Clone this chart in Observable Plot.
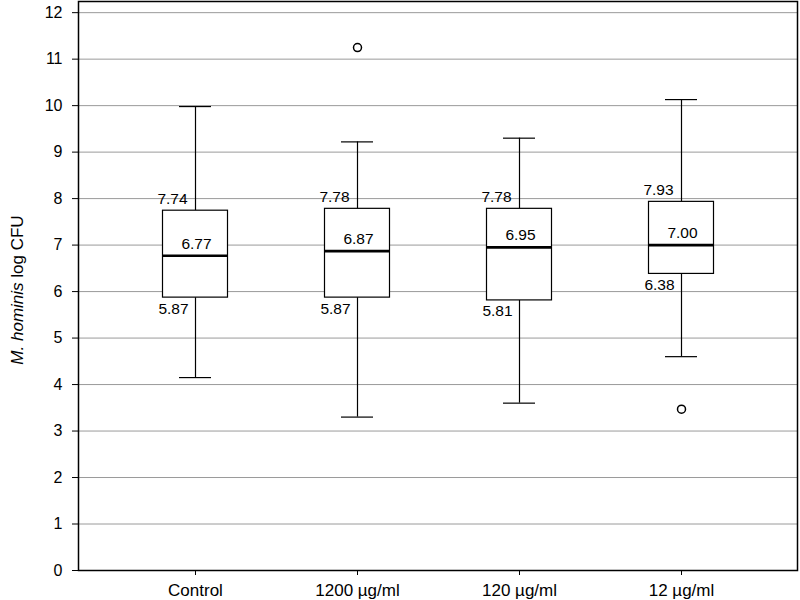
<!DOCTYPE html>
<html>
<head>
<meta charset="utf-8">
<script src="https://cdn.jsdelivr.net/npm/d3@7"></script>
<script src="https://cdn.jsdelivr.net/npm/@observablehq/plot@0.6"></script>
<style>
  html, body { margin: 0; padding: 0; background: white; }
</style>
</head>
<body>
<div id="chart"></div>
<script>
const categories = ["Control", "1200 µg/ml", "120 µg/ml", "12 µg/ml"];
const q1 = [5.87, 5.87, 5.81, 6.38];
const median = [6.77, 6.87, 6.95, 7.00];
const q3 = [7.74, 7.78, 7.78, 7.93];
const whiskerLow = [4.15, 3.30, 3.60, 4.60];
const whiskerHigh = [9.98, 9.22, 9.30, 10.13];
const outlierCategory = ["1200 µg/ml", "12 µg/ml"];
const outlierValue = [11.25, 3.47];
const yTicks = [0, 1, 2, 3, 4, 5, 6, 7, 8, 9, 10, 11, 12];
const yLabel = "M. hominis log CFU";

const boxes = categories.map((c, i) => ({
  cat: c, q1: q1[i], median: median[i], q3: q3[i], low: whiskerLow[i], high: whiskerHigh[i]
}));
const outliers = outlierCategory.map((c, i) => ({cat: c, value: outlierValue[i]}));

const chart = Plot.plot({
  width: 800,
  height: 600,
  marginLeft: 78,
  marginRight: 3,
  marginTop: 1,
  marginBottom: 30,
  style: {fontFamily: "'Liberation Sans', Arial, sans-serif", fontSize: "15px", background: "white", color: "black"},
  x: {domain: categories, paddingInner: 0, paddingOuter: 0.219, axis: null},
  y: {domain: [0, 12.24], axis: null},
  marks: [
    Plot.gridY(yTicks, {stroke: "#9a9a9a", strokeOpacity: 1, strokeWidth: 1}),
    Plot.ruleX(boxes, {x: "cat", y1: "q3", y2: "high", stroke: "black", strokeWidth: 1.2}),
    Plot.ruleX(boxes, {x: "cat", y1: "low", y2: "q1", stroke: "black", strokeWidth: 1.2}),
    Plot.tickY(boxes, {x: "cat", y: "high", insetLeft: 65, insetRight: 65, stroke: "black", strokeWidth: 1.2}),
    Plot.tickY(boxes, {x: "cat", y: "low", insetLeft: 65, insetRight: 65, stroke: "black", strokeWidth: 1.2}),
    Plot.rect(boxes, {x: "cat", y1: "q1", y2: "q3", insetLeft: 48.5, insetRight: 48.5, fill: "white", stroke: "black", strokeWidth: 1.2}),
    Plot.tickY(boxes, {x: "cat", y: "median", insetLeft: 48.5, insetRight: 48.5, stroke: "black", strokeWidth: 2.6}),
    Plot.dot(outliers, {x: "cat", y: "value", r: 4, fill: "white", stroke: "black", strokeWidth: 1.5}),
    Plot.text(boxes, {x: "cat", y: "q3", text: d => d.q3.toFixed(2), dx: -23, dy: -12, fill: "black", fontSize: 15.5}),
    Plot.text(boxes, {x: "cat", y: "median", text: d => d.median.toFixed(2), dx: 1, dy: -12, fill: "black", fontSize: 15.5}),
    Plot.text(boxes, {x: "cat", y: "q1", text: d => d.q1.toFixed(2), dx: -22, dy: 11, fill: "black", fontSize: 15.5}),
    Plot.axisY(yTicks, {tickSize: 6, tickPadding: 10, label: null, fontSize: 16}),
    Plot.axisX({tickSize: 5, tickPadding: 8, label: null, fontSize: 17}),
    Plot.frame({stroke: "black", strokeWidth: 1.5}),
    Plot.text([yLabel], {frameAnchor: "left", textAnchor: "middle", dx: -61, dy: 4, rotate: -90, fill: "black", fontSize: 17})
  ]
});

d3.select(chart).selectAll("text").each(function() {
  if (this.textContent === yLabel) {
    const t = d3.select(this);
    t.text(null);
    t.append("tspan").attr("font-style", "italic").text("M. hominis");
    t.append("tspan").text(" log CFU");
  }
});

document.getElementById("chart").appendChild(chart);
</script>
</body>
</html>
